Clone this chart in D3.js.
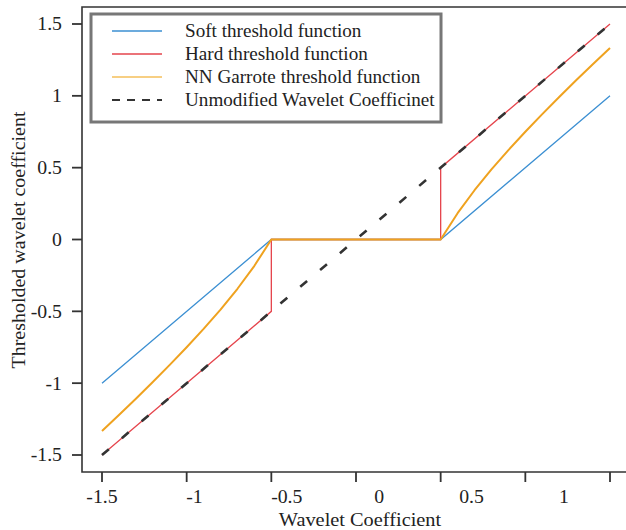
<!DOCTYPE html>
<html>
<head>
<meta charset="utf-8">
<script src="https://cdn.jsdelivr.net/npm/d3@7"></script>
<style>
  html, body { margin: 0; padding: 0; background: #fff; }
  svg { display: block; }
  text { font-family: "Liberation Serif", "Times New Roman", serif; fill: #222; }
</style>
</head>
<body>
<svg id="chart" width="626" height="530"></svg>
<script>
// Threshold functions sampled over the wavelet coefficient range
const softX = [-1.5, -0.5, 0.5, 1.5];
const softY = [-1.0, 0, 0, 1.0];

const hardX = [-1.5, -0.5, -0.5, 0.5, 0.5, 1.5];
const hardY = [-1.5, -0.5, 0, 0, 0.5, 1.5];

const garroteX = [-1.5, -1.4, -1.3, -1.2, -1.1, -1.0, -0.9, -0.8, -0.7, -0.6, -0.5,
                  0.5, 0.6, 0.7, 0.8, 0.9, 1.0, 1.1, 1.2, 1.3, 1.4, 1.5];
const garroteY = [-1.333, -1.221, -1.108, -0.992, -0.873, -0.75, -0.622, -0.488, -0.343, -0.183, 0,
                  0, 0.183, 0.343, 0.488, 0.622, 0.75, 0.873, 0.992, 1.108, 1.221, 1.333];

const identX = [-1.5, 1.5];
const identY = [-1.5, 1.5];

const xTicks = [-1.5, -1, -0.5, 0, 0.5, 1, 1.5];
const xTickLabels = ["-1.5", "-1", "-0.5", "0", "0.5", "1"];
const yTicks = [-1.5, -1, -0.5, 0, 0.5, 1, 1.5];
const yTickLabels = ["-1.5", "-1", "-0.5", "0", "0.5", "1", "1.5"];

const legendNames = ["Soft threshold function", "Hard threshold function",
                     "NN Garrote threshold function", "Unmodified Wavelet Coefficinet"];
const colors = ["#3b8fd2", "#e5444c", "#efa21f", "#333333"];

const svg = d3.select("#chart");
const frame = { left: 82, top: 7, right: 626, bottom: 472 };

const x = d3.scaleLinear().domain([-1.5, 1.5]).range([102, 610]);
const y = d3.scaleLinear().domain([-1.5, 1.5]).range([455, 24]);
// tick labels sit on their own spacing along the bottom
const xLab = d3.scaleLinear().domain([-1.5, 1]).range([102, 564]);

// glyphs are drawn slightly wide
const wide = "scale(1.07,1)";

// frame: left, top and bottom edges
svg.append("path")
  .attr("d", `M${frame.right},${frame.top}H${frame.left}V${frame.bottom}H${frame.right}`)
  .attr("fill", "none").attr("stroke", "#333").attr("stroke-width", 1.6);

// x ticks
svg.append("g").selectAll("line").data(xTicks).join("line")
  .attr("x1", d => x(d)).attr("x2", d => x(d))
  .attr("y1", frame.bottom).attr("y2", frame.bottom + 10)
  .attr("stroke", "#333").attr("stroke-width", 1.8);
svg.append("g").selectAll("text").data(xTickLabels).join("text")
  .attr("transform", (d, i) => `translate(${xLab(xTicks[i])},503) ${wide}`)
  .attr("text-anchor", "middle")
  .attr("font-size", 18.5)
  .text(d => d);

// y ticks
svg.append("g").selectAll("line").data(yTicks).join("line")
  .attr("x1", frame.left - 10).attr("x2", frame.left)
  .attr("y1", d => y(d)).attr("y2", d => y(d))
  .attr("stroke", "#333").attr("stroke-width", 1.8);
svg.append("g").selectAll("text").data(yTickLabels).join("text")
  .attr("transform", (d, i) => `translate(62,${y(yTicks[i])}) ${wide}`)
  .attr("dy", "0.35em")
  .attr("text-anchor", "end")
  .attr("font-size", 18.5)
  .text(d => d);

// axis titles
svg.append("text")
  .attr("transform", `translate(360,526) scale(1.1,1)`)
  .attr("text-anchor", "middle").attr("font-size", 18.5)
  .text("Wavelet Coefficient");
svg.append("text")
  .attr("transform", "translate(25,240) rotate(-90) scale(1.08,1)")
  .attr("text-anchor", "middle").attr("font-size", 18.5)
  .text("Thresholded wavelet coefficient");

const line = d3.line().x(d => x(d[0])).y(d => y(d[1]));
const zip = (xs, ys) => xs.map((v, i) => [v, ys[i]]);

const g = svg.append("g");
g.append("path").datum(zip(softX, softY)).attr("d", line)
  .attr("fill", "none").attr("stroke", colors[0]).attr("stroke-width", 1.3);
g.append("path").datum(zip(hardX, hardY)).attr("d", line)
  .attr("fill", "none").attr("stroke", colors[1]).attr("stroke-width", 1.3);
g.append("path").datum(zip(garroteX, garroteY)).attr("d", line)
  .attr("fill", "none").attr("stroke", colors[2]).attr("stroke-width", 2)
  .attr("stroke-linejoin", "round");
g.append("path").datum(zip(identX, identY)).attr("d", line)
  .attr("fill", "none").attr("stroke", colors[3]).attr("stroke-width", 2.6)
  .attr("stroke-dasharray", "9,17");

// legend
const leg = svg.append("g");
leg.append("rect")
  .attr("x", 91).attr("y", 14).attr("width", 350).attr("height", 108)
  .attr("fill", "#fff").attr("stroke", "#777").attr("stroke-width", 3);
legendNames.forEach((name, i) => {
  const ly = 31 + i * 23;
  leg.append("line")
    .attr("x1", 112).attr("x2", 162).attr("y1", ly).attr("y2", ly)
    .attr("stroke", i === 2 ? "#f5bf5a" : colors[i])
    .attr("stroke-width", i === 3 ? 1.8 : 1.3)
    .attr("stroke-dasharray", i === 3 ? "8,7" : null);
  leg.append("text")
    .attr("transform", `translate(185,${ly}) scale(1.035,1)`)
    .attr("dy", "0.35em")
    .attr("font-size", 18.5)
    .text(name);
});
</script>
</body>
</html>
